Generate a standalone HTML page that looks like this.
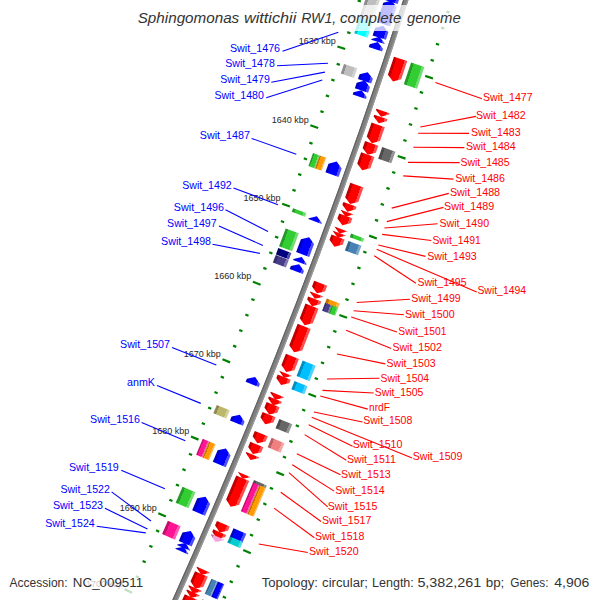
<!DOCTYPE html><html><head><meta charset="utf-8"><style>html,body{margin:0;padding:0;background:#fff;width:600px;height:600px;overflow:hidden}
svg{display:block}
text{font-family:"Liberation Sans",sans-serif}
.lb{font-size:11px}
.tk{font-size:9px;fill:#262626}
.ti{font-size:14px;font-style:italic;fill:#333}
.ft{font-size:12px;fill:#333}</style></head><body><svg width="600" height="600" viewBox="0 0 600 600">
<defs><linearGradient id="g1" gradientUnits="userSpaceOnUse" x1="366.52" y1="-4.19" x2="379.84" y2="0.13"><stop offset="0" stop-color="#8e8e8e"/><stop offset="0.2" stop-color="#8e8e8e"/><stop offset="0.2" stop-color="#bebebe"/><stop offset="0.8" stop-color="#bebebe"/><stop offset="0.8" stop-color="#d2d2d2"/><stop offset="1" stop-color="#d2d2d2"/></linearGradient><linearGradient id="g2" gradientUnits="userSpaceOnUse" x1="357.05" y1="24.78" x2="370.34" y2="29.17"><stop offset="0" stop-color="#00bfbf"/><stop offset="0.2" stop-color="#00bfbf"/><stop offset="0.2" stop-color="#00ffff"/><stop offset="0.8" stop-color="#00ffff"/><stop offset="0.8" stop-color="#4cffff"/><stop offset="1" stop-color="#4cffff"/></linearGradient><linearGradient id="g3" gradientUnits="userSpaceOnUse" x1="342.38" y1="68.66" x2="355.64" y2="73.16"><stop offset="0" stop-color="#8e8e8e"/><stop offset="0.2" stop-color="#8e8e8e"/><stop offset="0.2" stop-color="#bebebe"/><stop offset="0.8" stop-color="#bebebe"/><stop offset="0.8" stop-color="#d2d2d2"/><stop offset="1" stop-color="#d2d2d2"/></linearGradient><linearGradient id="g4" gradientUnits="userSpaceOnUse" x1="310.74" y1="159.56" x2="317.34" y2="161.92"><stop offset="0" stop-color="#269a26"/><stop offset="0.2" stop-color="#269a26"/><stop offset="0.2" stop-color="#32cd32"/><stop offset="0.8" stop-color="#32cd32"/><stop offset="0.8" stop-color="#70dc70"/><stop offset="1" stop-color="#70dc70"/></linearGradient><linearGradient id="g5" gradientUnits="userSpaceOnUse" x1="317.34" y1="161.92" x2="323.93" y2="164.28"><stop offset="0" stop-color="#bf7300"/><stop offset="0.2" stop-color="#bf7300"/><stop offset="0.2" stop-color="#ff9900"/><stop offset="0.8" stop-color="#ff9900"/><stop offset="0.8" stop-color="#ffb84c"/><stop offset="1" stop-color="#ffb84c"/></linearGradient><linearGradient id="g6" gradientUnits="userSpaceOnUse" x1="292.45" y1="210.01" x2="305.59" y2="214.84"><stop offset="0" stop-color="#269a26"/><stop offset="0.2" stop-color="#269a26"/><stop offset="0.2" stop-color="#32cd32"/><stop offset="0.8" stop-color="#32cd32"/><stop offset="0.8" stop-color="#70dc70"/><stop offset="1" stop-color="#70dc70"/></linearGradient><linearGradient id="g7" gradientUnits="userSpaceOnUse" x1="282.34" y1="237.30" x2="295.45" y2="242.20"><stop offset="0" stop-color="#269a26"/><stop offset="0.2" stop-color="#269a26"/><stop offset="0.2" stop-color="#32cd32"/><stop offset="0.8" stop-color="#32cd32"/><stop offset="0.8" stop-color="#70dc70"/><stop offset="1" stop-color="#70dc70"/></linearGradient><linearGradient id="g8" gradientUnits="userSpaceOnUse" x1="277.11" y1="251.26" x2="290.21" y2="256.19"><stop offset="0" stop-color="#000060"/><stop offset="0.2" stop-color="#000060"/><stop offset="0.2" stop-color="#000080"/><stop offset="0.8" stop-color="#000080"/><stop offset="0.8" stop-color="#4c4ca6"/><stop offset="1" stop-color="#4c4ca6"/></linearGradient><linearGradient id="g9" gradientUnits="userSpaceOnUse" x1="274.29" y1="258.72" x2="287.39" y2="263.67"><stop offset="0" stop-color="#362e68"/><stop offset="0.2" stop-color="#362e68"/><stop offset="0.2" stop-color="#483d8b"/><stop offset="0.8" stop-color="#483d8b"/><stop offset="0.8" stop-color="#7f77ae"/><stop offset="1" stop-color="#7f77ae"/></linearGradient><linearGradient id="g10" gradientUnits="userSpaceOnUse" x1="215.06" y1="409.07" x2="228.01" y2="414.38"><stop offset="0" stop-color="#8e8950"/><stop offset="0.2" stop-color="#8e8950"/><stop offset="0.2" stop-color="#bdb76b"/><stop offset="0.8" stop-color="#bdb76b"/><stop offset="0.8" stop-color="#d1cd97"/><stop offset="1" stop-color="#d1cd97"/></linearGradient><linearGradient id="g11" gradientUnits="userSpaceOnUse" x1="199.43" y1="446.79" x2="205.88" y2="449.50"><stop offset="0" stop-color="#bf0f6e"/><stop offset="0.2" stop-color="#bf0f6e"/><stop offset="0.2" stop-color="#ff1493"/><stop offset="0.8" stop-color="#ff1493"/><stop offset="0.8" stop-color="#ff5ab3"/><stop offset="1" stop-color="#ff5ab3"/></linearGradient><linearGradient id="g12" gradientUnits="userSpaceOnUse" x1="205.88" y1="449.50" x2="212.34" y2="452.20"><stop offset="0" stop-color="#bf7300"/><stop offset="0.2" stop-color="#bf7300"/><stop offset="0.2" stop-color="#ff9900"/><stop offset="0.8" stop-color="#ff9900"/><stop offset="0.8" stop-color="#ffb84c"/><stop offset="1" stop-color="#ffb84c"/></linearGradient><linearGradient id="g13" gradientUnits="userSpaceOnUse" x1="179.10" y1="494.78" x2="191.96" y2="500.30"><stop offset="0" stop-color="#269a26"/><stop offset="0.2" stop-color="#269a26"/><stop offset="0.2" stop-color="#32cd32"/><stop offset="0.8" stop-color="#32cd32"/><stop offset="0.8" stop-color="#70dc70"/><stop offset="1" stop-color="#70dc70"/></linearGradient><linearGradient id="g14" gradientUnits="userSpaceOnUse" x1="164.99" y1="527.39" x2="177.82" y2="532.99"><stop offset="0" stop-color="#bf0f6e"/><stop offset="0.2" stop-color="#bf0f6e"/><stop offset="0.2" stop-color="#ff1493"/><stop offset="0.8" stop-color="#ff1493"/><stop offset="0.8" stop-color="#ff5ab3"/><stop offset="1" stop-color="#ff5ab3"/></linearGradient><linearGradient id="g15" gradientUnits="userSpaceOnUse" x1="388.73" y1="-14.08" x2="402.06" y2="-9.80"><stop offset="0" stop-color="#0000bf"/><stop offset="0.2" stop-color="#0000bf"/><stop offset="0.2" stop-color="#0000ff"/><stop offset="0.8" stop-color="#0000ff"/><stop offset="0.8" stop-color="#4c4cff"/><stop offset="1" stop-color="#4c4cff"/></linearGradient><linearGradient id="g16" gradientUnits="userSpaceOnUse" x1="380.89" y1="10.16" x2="394.20" y2="14.49"><stop offset="0" stop-color="#0000bf"/><stop offset="0.2" stop-color="#0000bf"/><stop offset="0.2" stop-color="#0000ff"/><stop offset="0.8" stop-color="#0000ff"/><stop offset="0.8" stop-color="#4c4cff"/><stop offset="1" stop-color="#4c4cff"/></linearGradient><linearGradient id="g17" gradientUnits="userSpaceOnUse" x1="374.57" y1="29.46" x2="387.86" y2="33.84"><stop offset="0" stop-color="#0000bf"/><stop offset="0.2" stop-color="#0000bf"/><stop offset="0.2" stop-color="#0000ff"/><stop offset="0.8" stop-color="#0000ff"/><stop offset="0.8" stop-color="#4c4cff"/><stop offset="1" stop-color="#4c4cff"/></linearGradient><linearGradient id="g18" gradientUnits="userSpaceOnUse" x1="372.04" y1="37.10" x2="385.33" y2="41.50"><stop offset="0" stop-color="#0000bf"/><stop offset="0.2" stop-color="#0000bf"/><stop offset="0.2" stop-color="#0000ff"/><stop offset="0.8" stop-color="#0000ff"/><stop offset="0.8" stop-color="#4c4cff"/><stop offset="1" stop-color="#4c4cff"/></linearGradient><linearGradient id="g19" gradientUnits="userSpaceOnUse" x1="369.96" y1="43.38" x2="383.24" y2="47.80"><stop offset="0" stop-color="#0000bf"/><stop offset="0.2" stop-color="#0000bf"/><stop offset="0.2" stop-color="#0000ff"/><stop offset="0.8" stop-color="#0000ff"/><stop offset="0.8" stop-color="#4c4cff"/><stop offset="1" stop-color="#4c4cff"/></linearGradient><linearGradient id="g20" gradientUnits="userSpaceOnUse" x1="359.51" y1="74.51" x2="372.77" y2="79.00"><stop offset="0" stop-color="#0000bf"/><stop offset="0.2" stop-color="#0000bf"/><stop offset="0.2" stop-color="#0000ff"/><stop offset="0.8" stop-color="#0000ff"/><stop offset="0.8" stop-color="#4c4cff"/><stop offset="1" stop-color="#4c4cff"/></linearGradient><linearGradient id="g21" gradientUnits="userSpaceOnUse" x1="356.53" y1="83.28" x2="369.78" y2="87.79"><stop offset="0" stop-color="#0000bf"/><stop offset="0.2" stop-color="#0000bf"/><stop offset="0.2" stop-color="#0000ff"/><stop offset="0.8" stop-color="#0000ff"/><stop offset="0.8" stop-color="#4c4cff"/><stop offset="1" stop-color="#4c4cff"/></linearGradient><linearGradient id="g22" gradientUnits="userSpaceOnUse" x1="353.84" y1="91.16" x2="367.09" y2="95.70"><stop offset="0" stop-color="#0000bf"/><stop offset="0.2" stop-color="#0000bf"/><stop offset="0.2" stop-color="#0000ff"/><stop offset="0.8" stop-color="#0000ff"/><stop offset="0.8" stop-color="#4c4cff"/><stop offset="1" stop-color="#4c4cff"/></linearGradient><linearGradient id="g23" gradientUnits="userSpaceOnUse" x1="327.75" y1="165.77" x2="340.93" y2="170.48"><stop offset="0" stop-color="#0000bf"/><stop offset="0.2" stop-color="#0000bf"/><stop offset="0.2" stop-color="#0000ff"/><stop offset="0.8" stop-color="#0000ff"/><stop offset="0.8" stop-color="#4c4cff"/><stop offset="1" stop-color="#4c4cff"/></linearGradient><linearGradient id="g24" gradientUnits="userSpaceOnUse" x1="309.37" y1="216.45" x2="322.51" y2="221.29"><stop offset="0" stop-color="#0000bf"/><stop offset="0.2" stop-color="#0000bf"/><stop offset="0.2" stop-color="#0000ff"/><stop offset="0.8" stop-color="#0000ff"/><stop offset="0.8" stop-color="#4c4cff"/><stop offset="1" stop-color="#4c4cff"/></linearGradient><linearGradient id="g25" gradientUnits="userSpaceOnUse" x1="299.35" y1="243.48" x2="312.47" y2="248.37"><stop offset="0" stop-color="#0000bf"/><stop offset="0.2" stop-color="#0000bf"/><stop offset="0.2" stop-color="#0000ff"/><stop offset="0.8" stop-color="#0000ff"/><stop offset="0.8" stop-color="#4c4cff"/><stop offset="1" stop-color="#4c4cff"/></linearGradient><linearGradient id="g26" gradientUnits="userSpaceOnUse" x1="294.15" y1="257.36" x2="307.25" y2="262.29"><stop offset="0" stop-color="#0000bf"/><stop offset="0.2" stop-color="#0000bf"/><stop offset="0.2" stop-color="#0000ff"/><stop offset="0.8" stop-color="#0000ff"/><stop offset="0.8" stop-color="#4c4cff"/><stop offset="1" stop-color="#4c4cff"/></linearGradient><linearGradient id="g27" gradientUnits="userSpaceOnUse" x1="291.12" y1="265.39" x2="304.21" y2="270.34"><stop offset="0" stop-color="#0000bf"/><stop offset="0.2" stop-color="#0000bf"/><stop offset="0.2" stop-color="#0000ff"/><stop offset="0.8" stop-color="#0000ff"/><stop offset="0.8" stop-color="#4c4cff"/><stop offset="1" stop-color="#4c4cff"/></linearGradient><linearGradient id="g28" gradientUnits="userSpaceOnUse" x1="247.15" y1="378.13" x2="260.14" y2="383.36"><stop offset="0" stop-color="#0000bf"/><stop offset="0.2" stop-color="#0000bf"/><stop offset="0.2" stop-color="#0000ff"/><stop offset="0.8" stop-color="#0000ff"/><stop offset="0.8" stop-color="#4c4cff"/><stop offset="1" stop-color="#4c4cff"/></linearGradient><linearGradient id="g29" gradientUnits="userSpaceOnUse" x1="231.66" y1="416.28" x2="244.61" y2="421.60"><stop offset="0" stop-color="#0000bf"/><stop offset="0.2" stop-color="#0000bf"/><stop offset="0.2" stop-color="#0000ff"/><stop offset="0.8" stop-color="#0000ff"/><stop offset="0.8" stop-color="#4c4cff"/><stop offset="1" stop-color="#4c4cff"/></linearGradient><linearGradient id="g30" gradientUnits="userSpaceOnUse" x1="216.12" y1="453.78" x2="229.04" y2="459.18"><stop offset="0" stop-color="#0000bf"/><stop offset="0.2" stop-color="#0000bf"/><stop offset="0.2" stop-color="#0000ff"/><stop offset="0.8" stop-color="#0000ff"/><stop offset="0.8" stop-color="#4c4cff"/><stop offset="1" stop-color="#4c4cff"/></linearGradient><linearGradient id="g31" gradientUnits="userSpaceOnUse" x1="195.63" y1="502.14" x2="208.50" y2="507.66"><stop offset="0" stop-color="#0000bf"/><stop offset="0.2" stop-color="#0000bf"/><stop offset="0.2" stop-color="#0000ff"/><stop offset="0.8" stop-color="#0000ff"/><stop offset="0.8" stop-color="#4c4cff"/><stop offset="1" stop-color="#4c4cff"/></linearGradient><linearGradient id="g32" gradientUnits="userSpaceOnUse" x1="181.58" y1="534.63" x2="194.41" y2="540.23"><stop offset="0" stop-color="#0000bf"/><stop offset="0.2" stop-color="#0000bf"/><stop offset="0.2" stop-color="#0000ff"/><stop offset="0.8" stop-color="#0000ff"/><stop offset="0.8" stop-color="#4c4cff"/><stop offset="1" stop-color="#4c4cff"/></linearGradient><linearGradient id="g33" gradientUnits="userSpaceOnUse" x1="178.07" y1="542.65" x2="190.90" y2="548.27"><stop offset="0" stop-color="#0000bf"/><stop offset="0.2" stop-color="#0000bf"/><stop offset="0.2" stop-color="#0000ff"/><stop offset="0.8" stop-color="#0000ff"/><stop offset="0.8" stop-color="#4c4cff"/><stop offset="1" stop-color="#4c4cff"/></linearGradient><linearGradient id="g34" gradientUnits="userSpaceOnUse" x1="176.41" y1="546.45" x2="189.23" y2="552.08"><stop offset="0" stop-color="#0000bf"/><stop offset="0.2" stop-color="#0000bf"/><stop offset="0.2" stop-color="#0000ff"/><stop offset="0.8" stop-color="#0000ff"/><stop offset="0.8" stop-color="#4c4cff"/><stop offset="1" stop-color="#4c4cff"/></linearGradient><linearGradient id="g35" gradientUnits="userSpaceOnUse" x1="407.46" y1="73.46" x2="420.73" y2="77.92"><stop offset="0" stop-color="#269a26"/><stop offset="0.2" stop-color="#269a26"/><stop offset="0.2" stop-color="#32cd32"/><stop offset="0.8" stop-color="#32cd32"/><stop offset="0.8" stop-color="#70dc70"/><stop offset="1" stop-color="#70dc70"/></linearGradient><linearGradient id="g36" gradientUnits="userSpaceOnUse" x1="380.19" y1="152.82" x2="393.39" y2="157.47"><stop offset="0" stop-color="#4c4c4c"/><stop offset="0.2" stop-color="#4c4c4c"/><stop offset="0.2" stop-color="#666666"/><stop offset="0.8" stop-color="#666666"/><stop offset="0.8" stop-color="#949494"/><stop offset="1" stop-color="#949494"/></linearGradient><linearGradient id="g37" gradientUnits="userSpaceOnUse" x1="350.44" y1="235.43" x2="363.58" y2="240.27"><stop offset="0" stop-color="#269a26"/><stop offset="0.2" stop-color="#269a26"/><stop offset="0.2" stop-color="#32cd32"/><stop offset="0.8" stop-color="#32cd32"/><stop offset="0.8" stop-color="#70dc70"/><stop offset="1" stop-color="#70dc70"/></linearGradient><linearGradient id="g38" gradientUnits="userSpaceOnUse" x1="346.65" y1="245.68" x2="359.78" y2="250.55"><stop offset="0" stop-color="#346287"/><stop offset="0.2" stop-color="#346287"/><stop offset="0.2" stop-color="#4682b4"/><stop offset="0.8" stop-color="#4682b4"/><stop offset="0.8" stop-color="#7ea8ca"/><stop offset="1" stop-color="#7ea8ca"/></linearGradient><linearGradient id="g39" gradientUnits="userSpaceOnUse" x1="325.88" y1="300.87" x2="338.96" y2="305.87"><stop offset="0" stop-color="#bf7300"/><stop offset="0.2" stop-color="#bf7300"/><stop offset="0.2" stop-color="#ff9900"/><stop offset="0.8" stop-color="#ff9900"/><stop offset="0.8" stop-color="#ffb84c"/><stop offset="1" stop-color="#ffb84c"/></linearGradient><linearGradient id="g40" gradientUnits="userSpaceOnUse" x1="323.60" y1="306.83" x2="330.14" y2="309.33"><stop offset="0" stop-color="#362e68"/><stop offset="0.2" stop-color="#362e68"/><stop offset="0.2" stop-color="#483d8b"/><stop offset="0.8" stop-color="#483d8b"/><stop offset="0.8" stop-color="#7f77ae"/><stop offset="1" stop-color="#7f77ae"/></linearGradient><linearGradient id="g41" gradientUnits="userSpaceOnUse" x1="330.14" y1="309.33" x2="336.67" y2="311.84"><stop offset="0" stop-color="#269a26"/><stop offset="0.2" stop-color="#269a26"/><stop offset="0.2" stop-color="#32cd32"/><stop offset="0.8" stop-color="#32cd32"/><stop offset="0.8" stop-color="#70dc70"/><stop offset="1" stop-color="#70dc70"/></linearGradient><linearGradient id="g42" gradientUnits="userSpaceOnUse" x1="299.62" y1="368.34" x2="312.64" y2="373.49"><stop offset="0" stop-color="#008fbf"/><stop offset="0.2" stop-color="#008fbf"/><stop offset="0.2" stop-color="#00bfff"/><stop offset="0.8" stop-color="#00bfff"/><stop offset="0.8" stop-color="#4cd2ff"/><stop offset="1" stop-color="#4cd2ff"/></linearGradient><linearGradient id="g43" gradientUnits="userSpaceOnUse" x1="292.94" y1="385.12" x2="305.94" y2="390.32"><stop offset="0" stop-color="#008fbf"/><stop offset="0.2" stop-color="#008fbf"/><stop offset="0.2" stop-color="#00bfff"/><stop offset="0.8" stop-color="#00bfff"/><stop offset="0.8" stop-color="#4cd2ff"/><stop offset="1" stop-color="#4cd2ff"/></linearGradient><linearGradient id="g44" gradientUnits="userSpaceOnUse" x1="277.41" y1="423.55" x2="290.38" y2="428.84"><stop offset="0" stop-color="#4c4c4c"/><stop offset="0.2" stop-color="#4c4c4c"/><stop offset="0.2" stop-color="#666666"/><stop offset="0.8" stop-color="#666666"/><stop offset="0.8" stop-color="#949494"/><stop offset="1" stop-color="#949494"/></linearGradient><linearGradient id="g45" gradientUnits="userSpaceOnUse" x1="269.61" y1="442.57" x2="282.56" y2="447.91"><stop offset="0" stop-color="#b46060"/><stop offset="0.2" stop-color="#b46060"/><stop offset="0.2" stop-color="#f08080"/><stop offset="0.8" stop-color="#f08080"/><stop offset="0.8" stop-color="#f4a6a6"/><stop offset="1" stop-color="#f4a6a6"/></linearGradient><linearGradient id="g46" gradientUnits="userSpaceOnUse" x1="253.35" y1="481.62" x2="266.26" y2="487.05"><stop offset="0" stop-color="#4c4c4c"/><stop offset="0.2" stop-color="#4c4c4c"/><stop offset="0.2" stop-color="#666666"/><stop offset="0.8" stop-color="#666666"/><stop offset="0.8" stop-color="#949494"/><stop offset="1" stop-color="#949494"/></linearGradient><linearGradient id="g47" gradientUnits="userSpaceOnUse" x1="246.92" y1="496.86" x2="253.36" y2="499.60"><stop offset="0" stop-color="#bf0f6e"/><stop offset="0.2" stop-color="#bf0f6e"/><stop offset="0.2" stop-color="#ff1493"/><stop offset="0.8" stop-color="#ff1493"/><stop offset="0.8" stop-color="#ff5ab3"/><stop offset="1" stop-color="#ff5ab3"/></linearGradient><linearGradient id="g48" gradientUnits="userSpaceOnUse" x1="253.36" y1="499.60" x2="259.81" y2="502.33"><stop offset="0" stop-color="#bf7300"/><stop offset="0.2" stop-color="#bf7300"/><stop offset="0.2" stop-color="#ff9900"/><stop offset="0.8" stop-color="#ff9900"/><stop offset="0.8" stop-color="#ffb84c"/><stop offset="1" stop-color="#ffb84c"/></linearGradient><linearGradient id="g49" gradientUnits="userSpaceOnUse" x1="231.56" y1="532.76" x2="244.41" y2="538.31"><stop offset="0" stop-color="#0000bf"/><stop offset="0.2" stop-color="#0000bf"/><stop offset="0.2" stop-color="#0000ff"/><stop offset="0.8" stop-color="#0000ff"/><stop offset="0.8" stop-color="#4c4cff"/><stop offset="1" stop-color="#4c4cff"/></linearGradient><linearGradient id="g50" gradientUnits="userSpaceOnUse" x1="228.64" y1="539.50" x2="241.49" y2="545.07"><stop offset="0" stop-color="#009a9d"/><stop offset="0.2" stop-color="#009a9d"/><stop offset="0.2" stop-color="#00ced1"/><stop offset="0.8" stop-color="#00ced1"/><stop offset="0.8" stop-color="#4cdddf"/><stop offset="1" stop-color="#4cdddf"/></linearGradient><linearGradient id="g51" gradientUnits="userSpaceOnUse" x1="208.14" y1="586.24" x2="214.54" y2="589.08"><stop offset="0" stop-color="#346287"/><stop offset="0.2" stop-color="#346287"/><stop offset="0.2" stop-color="#4682b4"/><stop offset="0.8" stop-color="#4682b4"/><stop offset="0.8" stop-color="#7ea8ca"/><stop offset="1" stop-color="#7ea8ca"/></linearGradient><linearGradient id="g52" gradientUnits="userSpaceOnUse" x1="214.54" y1="589.08" x2="220.94" y2="591.92"><stop offset="0" stop-color="#0000bf"/><stop offset="0.2" stop-color="#0000bf"/><stop offset="0.2" stop-color="#0000ff"/><stop offset="0.8" stop-color="#0000ff"/><stop offset="0.8" stop-color="#4c4cff"/><stop offset="1" stop-color="#4c4cff"/></linearGradient><linearGradient id="g53" gradientUnits="userSpaceOnUse" x1="198.41" y1="608.06" x2="211.18" y2="613.79"><stop offset="0" stop-color="#737373"/><stop offset="0.2" stop-color="#737373"/><stop offset="0.2" stop-color="#999999"/><stop offset="0.8" stop-color="#999999"/><stop offset="0.8" stop-color="#b8b8b8"/><stop offset="1" stop-color="#b8b8b8"/></linearGradient><linearGradient id="g54" gradientUnits="userSpaceOnUse" x1="390.20" y1="67.98" x2="403.48" y2="72.44"><stop offset="0" stop-color="#bf0000"/><stop offset="0.2" stop-color="#bf0000"/><stop offset="0.2" stop-color="#ff0000"/><stop offset="0.8" stop-color="#ff0000"/><stop offset="0.8" stop-color="#ff4c4c"/><stop offset="1" stop-color="#ff4c4c"/></linearGradient><linearGradient id="g55" gradientUnits="userSpaceOnUse" x1="375.35" y1="111.65" x2="388.59" y2="116.21"><stop offset="0" stop-color="#bf0000"/><stop offset="0.2" stop-color="#bf0000"/><stop offset="0.2" stop-color="#ff0000"/><stop offset="0.8" stop-color="#ff0000"/><stop offset="0.8" stop-color="#ff4c4c"/><stop offset="1" stop-color="#ff4c4c"/></linearGradient><linearGradient id="g56" gradientUnits="userSpaceOnUse" x1="373.20" y1="117.89" x2="386.43" y2="122.47"><stop offset="0" stop-color="#bf0000"/><stop offset="0.2" stop-color="#bf0000"/><stop offset="0.2" stop-color="#ff0000"/><stop offset="0.8" stop-color="#ff0000"/><stop offset="0.8" stop-color="#ff4c4c"/><stop offset="1" stop-color="#ff4c4c"/></linearGradient><linearGradient id="g57" gradientUnits="userSpaceOnUse" x1="368.40" y1="131.73" x2="381.62" y2="136.33"><stop offset="0" stop-color="#bf0000"/><stop offset="0.2" stop-color="#bf0000"/><stop offset="0.2" stop-color="#ff0000"/><stop offset="0.8" stop-color="#ff0000"/><stop offset="0.8" stop-color="#ff4c4c"/><stop offset="1" stop-color="#ff4c4c"/></linearGradient><linearGradient id="g58" gradientUnits="userSpaceOnUse" x1="363.11" y1="146.82" x2="376.32" y2="151.46"><stop offset="0" stop-color="#bf0000"/><stop offset="0.2" stop-color="#bf0000"/><stop offset="0.2" stop-color="#ff0000"/><stop offset="0.8" stop-color="#ff0000"/><stop offset="0.8" stop-color="#ff4c4c"/><stop offset="1" stop-color="#ff4c4c"/></linearGradient><linearGradient id="g59" gradientUnits="userSpaceOnUse" x1="358.41" y1="160.15" x2="371.60" y2="164.83"><stop offset="0" stop-color="#bf0000"/><stop offset="0.2" stop-color="#bf0000"/><stop offset="0.2" stop-color="#ff0000"/><stop offset="0.8" stop-color="#ff0000"/><stop offset="0.8" stop-color="#ff4c4c"/><stop offset="1" stop-color="#ff4c4c"/></linearGradient><linearGradient id="g60" gradientUnits="userSpaceOnUse" x1="346.96" y1="192.17" x2="360.12" y2="196.92"><stop offset="0" stop-color="#bf0000"/><stop offset="0.2" stop-color="#bf0000"/><stop offset="0.2" stop-color="#ff0000"/><stop offset="0.8" stop-color="#ff0000"/><stop offset="0.8" stop-color="#ff4c4c"/><stop offset="1" stop-color="#ff4c4c"/></linearGradient><linearGradient id="g61" gradientUnits="userSpaceOnUse" x1="342.10" y1="205.58" x2="355.25" y2="210.36"><stop offset="0" stop-color="#bf0000"/><stop offset="0.2" stop-color="#bf0000"/><stop offset="0.2" stop-color="#ff0000"/><stop offset="0.8" stop-color="#ff0000"/><stop offset="0.8" stop-color="#ff4c4c"/><stop offset="1" stop-color="#ff4c4c"/></linearGradient><linearGradient id="g62" gradientUnits="userSpaceOnUse" x1="339.78" y1="211.95" x2="352.93" y2="216.75"><stop offset="0" stop-color="#bf0000"/><stop offset="0.2" stop-color="#bf0000"/><stop offset="0.2" stop-color="#ff0000"/><stop offset="0.8" stop-color="#ff0000"/><stop offset="0.8" stop-color="#ff4c4c"/><stop offset="1" stop-color="#ff4c4c"/></linearGradient><linearGradient id="g63" gradientUnits="userSpaceOnUse" x1="337.51" y1="218.15" x2="350.65" y2="222.96"><stop offset="0" stop-color="#bf0000"/><stop offset="0.2" stop-color="#bf0000"/><stop offset="0.2" stop-color="#ff0000"/><stop offset="0.8" stop-color="#ff0000"/><stop offset="0.8" stop-color="#ff4c4c"/><stop offset="1" stop-color="#ff4c4c"/></linearGradient><linearGradient id="g64" gradientUnits="userSpaceOnUse" x1="333.60" y1="228.78" x2="346.74" y2="233.62"><stop offset="0" stop-color="#bf0000"/><stop offset="0.2" stop-color="#bf0000"/><stop offset="0.2" stop-color="#ff0000"/><stop offset="0.8" stop-color="#ff0000"/><stop offset="0.8" stop-color="#ff4c4c"/><stop offset="1" stop-color="#ff4c4c"/></linearGradient><linearGradient id="g65" gradientUnits="userSpaceOnUse" x1="332.03" y1="233.04" x2="345.16" y2="237.89"><stop offset="0" stop-color="#bf0000"/><stop offset="0.2" stop-color="#bf0000"/><stop offset="0.2" stop-color="#ff0000"/><stop offset="0.8" stop-color="#ff0000"/><stop offset="0.8" stop-color="#ff4c4c"/><stop offset="1" stop-color="#ff4c4c"/></linearGradient><linearGradient id="g66" gradientUnits="userSpaceOnUse" x1="329.68" y1="239.39" x2="342.81" y2="244.26"><stop offset="0" stop-color="#bf0000"/><stop offset="0.2" stop-color="#bf0000"/><stop offset="0.2" stop-color="#ff0000"/><stop offset="0.8" stop-color="#ff0000"/><stop offset="0.8" stop-color="#ff4c4c"/><stop offset="1" stop-color="#ff4c4c"/></linearGradient><linearGradient id="g67" gradientUnits="userSpaceOnUse" x1="312.24" y1="285.84" x2="325.33" y2="290.82"><stop offset="0" stop-color="#bf0000"/><stop offset="0.2" stop-color="#bf0000"/><stop offset="0.2" stop-color="#ff0000"/><stop offset="0.8" stop-color="#ff0000"/><stop offset="0.8" stop-color="#ff4c4c"/><stop offset="1" stop-color="#ff4c4c"/></linearGradient><linearGradient id="g68" gradientUnits="userSpaceOnUse" x1="309.17" y1="293.90" x2="322.25" y2="298.90"><stop offset="0" stop-color="#bf0000"/><stop offset="0.2" stop-color="#bf0000"/><stop offset="0.2" stop-color="#ff0000"/><stop offset="0.8" stop-color="#ff0000"/><stop offset="0.8" stop-color="#ff4c4c"/><stop offset="1" stop-color="#ff4c4c"/></linearGradient><linearGradient id="g69" gradientUnits="userSpaceOnUse" x1="306.81" y1="300.07" x2="319.88" y2="305.08"><stop offset="0" stop-color="#bf0000"/><stop offset="0.2" stop-color="#bf0000"/><stop offset="0.2" stop-color="#ff0000"/><stop offset="0.8" stop-color="#ff0000"/><stop offset="0.8" stop-color="#ff4c4c"/><stop offset="1" stop-color="#ff4c4c"/></linearGradient><linearGradient id="g70" gradientUnits="userSpaceOnUse" x1="301.78" y1="313.15" x2="314.84" y2="318.19"><stop offset="0" stop-color="#bf0000"/><stop offset="0.2" stop-color="#bf0000"/><stop offset="0.2" stop-color="#ff0000"/><stop offset="0.8" stop-color="#ff0000"/><stop offset="0.8" stop-color="#ff4c4c"/><stop offset="1" stop-color="#ff4c4c"/></linearGradient><linearGradient id="g71" gradientUnits="userSpaceOnUse" x1="292.60" y1="336.76" x2="305.64" y2="341.86"><stop offset="0" stop-color="#bf0000"/><stop offset="0.2" stop-color="#bf0000"/><stop offset="0.2" stop-color="#ff0000"/><stop offset="0.8" stop-color="#ff0000"/><stop offset="0.8" stop-color="#ff4c4c"/><stop offset="1" stop-color="#ff4c4c"/></linearGradient><linearGradient id="g72" gradientUnits="userSpaceOnUse" x1="282.81" y1="361.63" x2="295.83" y2="366.79"><stop offset="0" stop-color="#bf0000"/><stop offset="0.2" stop-color="#bf0000"/><stop offset="0.2" stop-color="#ff0000"/><stop offset="0.8" stop-color="#ff0000"/><stop offset="0.8" stop-color="#ff4c4c"/><stop offset="1" stop-color="#ff4c4c"/></linearGradient><linearGradient id="g73" gradientUnits="userSpaceOnUse" x1="278.29" y1="373.01" x2="291.29" y2="378.19"><stop offset="0" stop-color="#bf0000"/><stop offset="0.2" stop-color="#bf0000"/><stop offset="0.2" stop-color="#ff0000"/><stop offset="0.8" stop-color="#ff0000"/><stop offset="0.8" stop-color="#ff4c4c"/><stop offset="1" stop-color="#ff4c4c"/></linearGradient><linearGradient id="g74" gradientUnits="userSpaceOnUse" x1="276.13" y1="378.40" x2="289.13" y2="383.60"><stop offset="0" stop-color="#bf0000"/><stop offset="0.2" stop-color="#bf0000"/><stop offset="0.2" stop-color="#ff0000"/><stop offset="0.8" stop-color="#ff0000"/><stop offset="0.8" stop-color="#ff4c4c"/><stop offset="1" stop-color="#ff4c4c"/></linearGradient><linearGradient id="g75" gradientUnits="userSpaceOnUse" x1="269.70" y1="394.41" x2="282.69" y2="399.65"><stop offset="0" stop-color="#bf0000"/><stop offset="0.2" stop-color="#bf0000"/><stop offset="0.2" stop-color="#ff0000"/><stop offset="0.8" stop-color="#ff0000"/><stop offset="0.8" stop-color="#ff4c4c"/><stop offset="1" stop-color="#ff4c4c"/></linearGradient><linearGradient id="g76" gradientUnits="userSpaceOnUse" x1="267.62" y1="399.56" x2="280.60" y2="404.81"><stop offset="0" stop-color="#bf0000"/><stop offset="0.2" stop-color="#bf0000"/><stop offset="0.2" stop-color="#ff0000"/><stop offset="0.8" stop-color="#ff0000"/><stop offset="0.8" stop-color="#ff4c4c"/><stop offset="1" stop-color="#ff4c4c"/></linearGradient><linearGradient id="g77" gradientUnits="userSpaceOnUse" x1="264.62" y1="406.97" x2="277.59" y2="412.24"><stop offset="0" stop-color="#bf0000"/><stop offset="0.2" stop-color="#bf0000"/><stop offset="0.2" stop-color="#ff0000"/><stop offset="0.8" stop-color="#ff0000"/><stop offset="0.8" stop-color="#ff4c4c"/><stop offset="1" stop-color="#ff4c4c"/></linearGradient><linearGradient id="g78" gradientUnits="userSpaceOnUse" x1="260.62" y1="416.79" x2="273.59" y2="422.08"><stop offset="0" stop-color="#bf0000"/><stop offset="0.2" stop-color="#bf0000"/><stop offset="0.2" stop-color="#ff0000"/><stop offset="0.8" stop-color="#ff0000"/><stop offset="0.8" stop-color="#ff4c4c"/><stop offset="1" stop-color="#ff4c4c"/></linearGradient><linearGradient id="g79" gradientUnits="userSpaceOnUse" x1="252.85" y1="435.75" x2="265.79" y2="441.09"><stop offset="0" stop-color="#bf0000"/><stop offset="0.2" stop-color="#bf0000"/><stop offset="0.2" stop-color="#ff0000"/><stop offset="0.8" stop-color="#ff0000"/><stop offset="0.8" stop-color="#ff4c4c"/><stop offset="1" stop-color="#ff4c4c"/></linearGradient><linearGradient id="g80" gradientUnits="userSpaceOnUse" x1="248.36" y1="446.60" x2="261.29" y2="451.97"><stop offset="0" stop-color="#bf0000"/><stop offset="0.2" stop-color="#bf0000"/><stop offset="0.2" stop-color="#ff0000"/><stop offset="0.8" stop-color="#ff0000"/><stop offset="0.8" stop-color="#ff4c4c"/><stop offset="1" stop-color="#ff4c4c"/></linearGradient><linearGradient id="g81" gradientUnits="userSpaceOnUse" x1="245.05" y1="454.57" x2="257.98" y2="459.95"><stop offset="0" stop-color="#bf0000"/><stop offset="0.2" stop-color="#bf0000"/><stop offset="0.2" stop-color="#ff0000"/><stop offset="0.8" stop-color="#ff0000"/><stop offset="0.8" stop-color="#ff4c4c"/><stop offset="1" stop-color="#ff4c4c"/></linearGradient><linearGradient id="g82" gradientUnits="userSpaceOnUse" x1="236.93" y1="473.98" x2="249.84" y2="479.41"><stop offset="0" stop-color="#bf0000"/><stop offset="0.2" stop-color="#bf0000"/><stop offset="0.2" stop-color="#ff0000"/><stop offset="0.8" stop-color="#ff0000"/><stop offset="0.8" stop-color="#ff4c4c"/><stop offset="1" stop-color="#ff4c4c"/></linearGradient><linearGradient id="g83" gradientUnits="userSpaceOnUse" x1="230.27" y1="489.76" x2="243.16" y2="495.22"><stop offset="0" stop-color="#bf0000"/><stop offset="0.2" stop-color="#bf0000"/><stop offset="0.2" stop-color="#ff0000"/><stop offset="0.8" stop-color="#ff0000"/><stop offset="0.8" stop-color="#ff4c4c"/><stop offset="1" stop-color="#ff4c4c"/></linearGradient><linearGradient id="g84" gradientUnits="userSpaceOnUse" x1="215.07" y1="525.28" x2="227.93" y2="530.82"><stop offset="0" stop-color="#bf0000"/><stop offset="0.2" stop-color="#bf0000"/><stop offset="0.2" stop-color="#ff0000"/><stop offset="0.8" stop-color="#ff0000"/><stop offset="0.8" stop-color="#ff4c4c"/><stop offset="1" stop-color="#ff4c4c"/></linearGradient><linearGradient id="g85" gradientUnits="userSpaceOnUse" x1="211.88" y1="532.65" x2="224.73" y2="538.22"><stop offset="0" stop-color="#bf0000"/><stop offset="0.2" stop-color="#bf0000"/><stop offset="0.2" stop-color="#ff0000"/><stop offset="0.8" stop-color="#ff0000"/><stop offset="0.8" stop-color="#ff4c4c"/><stop offset="1" stop-color="#ff4c4c"/></linearGradient><linearGradient id="g86" gradientUnits="userSpaceOnUse" x1="195.86" y1="569.28" x2="208.67" y2="574.93"><stop offset="0" stop-color="#bf0000"/><stop offset="0.2" stop-color="#bf0000"/><stop offset="0.2" stop-color="#ff0000"/><stop offset="0.8" stop-color="#ff0000"/><stop offset="0.8" stop-color="#ff4c4c"/><stop offset="1" stop-color="#ff4c4c"/></linearGradient><linearGradient id="g87" gradientUnits="userSpaceOnUse" x1="191.81" y1="578.44" x2="204.60" y2="584.11"><stop offset="0" stop-color="#bf0000"/><stop offset="0.2" stop-color="#bf0000"/><stop offset="0.2" stop-color="#ff0000"/><stop offset="0.8" stop-color="#ff0000"/><stop offset="0.8" stop-color="#ff4c4c"/><stop offset="1" stop-color="#ff4c4c"/></linearGradient><linearGradient id="g88" gradientUnits="userSpaceOnUse" x1="187.68" y1="587.70" x2="200.47" y2="593.40"><stop offset="0" stop-color="#bf0000"/><stop offset="0.2" stop-color="#bf0000"/><stop offset="0.2" stop-color="#ff0000"/><stop offset="0.8" stop-color="#ff0000"/><stop offset="0.8" stop-color="#ff4c4c"/><stop offset="1" stop-color="#ff4c4c"/></linearGradient><linearGradient id="g89" gradientUnits="userSpaceOnUse" x1="185.68" y1="592.20" x2="198.46" y2="597.91"><stop offset="0" stop-color="#bf0000"/><stop offset="0.2" stop-color="#bf0000"/><stop offset="0.2" stop-color="#ff0000"/><stop offset="0.8" stop-color="#ff0000"/><stop offset="0.8" stop-color="#ff4c4c"/><stop offset="1" stop-color="#ff4c4c"/></linearGradient><linearGradient id="g90" gradientUnits="userSpaceOnUse" x1="181.34" y1="601.88" x2="194.12" y2="607.61"><stop offset="0" stop-color="#bf0000"/><stop offset="0.2" stop-color="#bf0000"/><stop offset="0.2" stop-color="#ff0000"/><stop offset="0.8" stop-color="#ff0000"/><stop offset="0.8" stop-color="#ff4c4c"/><stop offset="1" stop-color="#ff4c4c"/></linearGradient><linearGradient id="g91" gradientUnits="userSpaceOnUse" x1="210.17" y1="536.59" x2="223.01" y2="542.17"><stop offset="0" stop-color="#b87ca5"/><stop offset="0.2" stop-color="#b87ca5"/><stop offset="0.2" stop-color="#f5a5dc"/><stop offset="0.8" stop-color="#f5a5dc"/><stop offset="0.8" stop-color="#f8c0e6"/><stop offset="1" stop-color="#f8c0e6"/></linearGradient></defs>
<polygon points="373.37,-25.45 359.59,17.05 372.90,21.42 386.70,-21.19" fill="url(#g1)"/>
<polygon points="359.86,16.26 354.23,33.31 367.52,37.71 373.16,20.62" fill="url(#g2)"/>
<polygon points="344.00,63.88 340.76,73.45 354.01,77.95 357.26,68.36" fill="url(#g3)"/>
<polygon points="313.04,153.11 308.44,166.01 315.02,168.38 319.64,155.46" fill="url(#g4)"/>
<polygon points="319.64,155.46 315.02,168.38 321.61,170.74 326.23,157.81" fill="url(#g5)"/>
<polygon points="293.13,208.17 291.78,211.85 304.91,216.69 306.27,212.99" fill="url(#g6)"/>
<polygon points="285.66,228.38 279.00,246.22 292.11,251.14 298.79,233.25" fill="url(#g7)"/>
<polygon points="278.33,248.01 275.88,254.50 288.98,259.44 291.43,252.94" fill="url(#g8)"/>
<polygon points="275.74,254.89 272.84,262.55 285.93,267.51 288.84,259.83" fill="url(#g9)"/>
<polygon points="216.77,404.89 213.34,413.24 226.29,418.56 229.72,410.20" fill="url(#g10)"/>
<polygon points="202.74,438.86 196.10,454.73 202.55,457.44 209.20,441.55" fill="url(#g11)"/>
<polygon points="209.20,441.55 202.55,457.44 209.01,460.15 215.66,444.24" fill="url(#g12)"/>
<polygon points="182.55,486.72 175.63,502.83 188.49,508.37 195.42,492.22" fill="url(#g13)"/>
<polygon points="167.87,520.77 162.10,534.01 174.92,539.63 180.71,526.35" fill="url(#g14)"/>
<polygon points="384.27,-0.24 391.73,-23.45 399.83,-25.80 405.07,-19.19 397.59,4.07" fill="url(#g15)"/>
<polygon points="377.00,22.06 383.31,2.71 391.42,0.40 396.63,7.03 390.30,26.43" fill="url(#g16)"/>
<polygon points="372.60,35.43 375.06,27.95 383.18,25.68 388.36,32.33 385.89,39.82" fill="url(#g17)"/>
<polygon points="371.20,39.64 371.41,39.01 379.53,36.75 384.70,43.41 384.49,44.05" fill="url(#g18)"/>
<polygon points="368.77,46.95 369.67,44.25 377.79,42.00 382.95,48.67 382.05,51.38" fill="url(#g19)"/>
<polygon points="357.95,79.11 359.56,74.35 367.70,72.15 372.82,78.84 371.20,83.62" fill="url(#g20)"/>
<polygon points="354.84,88.23 356.71,82.76 364.85,80.57 369.96,87.27 368.09,92.76" fill="url(#g21)"/>
<polygon points="352.73,94.41 353.43,92.35 361.57,90.18 366.68,96.89 365.97,98.95" fill="url(#g22)"/>
<polygon points="325.42,172.28 328.49,163.68 336.66,161.61 341.68,168.39 338.59,177.01" fill="url(#g23)"/>
<polygon points="308.41,219.05 308.70,218.26 316.89,216.27 321.84,223.10 321.55,223.89" fill="url(#g24)"/>
<polygon points="296.12,252.11 300.93,239.24 309.13,237.28 314.05,244.12 309.23,257.02" fill="url(#g25)"/>
<polygon points="293.11,260.10 293.53,259.01 301.73,257.08 306.63,263.94 306.22,265.04" fill="url(#g26)"/>
<polygon points="289.71,269.12 290.87,266.06 299.07,264.14 303.96,271.01 302.80,274.08" fill="url(#g27)"/>
<polygon points="245.65,381.86 246.90,378.76 255.15,377.01 259.89,383.98 258.64,387.09" fill="url(#g28)"/>
<polygon points="229.96,420.43 231.58,416.48 239.84,414.79 244.53,421.79 242.91,425.75" fill="url(#g29)"/>
<polygon points="212.79,461.74 217.64,450.15 225.91,448.51 230.56,455.54 225.70,467.16" fill="url(#g30)"/>
<polygon points="192.16,510.23 197.25,498.37 205.53,496.81 210.12,503.88 205.02,515.77" fill="url(#g31)"/>
<polygon points="178.81,540.96 182.47,532.59 190.76,531.08 195.30,538.19 191.64,546.58" fill="url(#g32)"/>
<polygon points="177.00,545.11 177.27,544.49 185.56,543.00 190.09,550.11 189.82,550.73" fill="url(#g33)"/>
<polygon points="175.35,548.87 175.58,548.33 183.88,546.84 188.40,553.96 188.16,554.50" fill="url(#g34)"/>
<polygon points="411.10,62.57 403.79,84.34 417.06,88.82 424.38,67.00" fill="url(#g35)"/>
<polygon points="382.23,147.01 378.14,158.64 391.34,163.29 395.44,151.64" fill="url(#g36)"/>
<polygon points="351.11,233.61 349.77,237.25 362.91,242.10 364.25,238.44" fill="url(#g37)"/>
<polygon points="348.43,240.89 344.88,250.47 358.00,255.35 361.56,245.75" fill="url(#g38)"/>
<polygon points="326.78,298.51 324.98,303.24 338.05,308.24 339.86,303.50" fill="url(#g39)"/>
<polygon points="325.13,302.84 322.07,310.81 328.61,313.32 331.66,305.35" fill="url(#g40)"/>
<polygon points="331.66,305.35 328.61,313.32 335.14,315.83 338.20,307.85" fill="url(#g41)"/>
<polygon points="302.68,360.60 296.55,376.06 309.56,381.24 315.70,365.74" fill="url(#g42)"/>
<polygon points="294.55,381.08 291.32,389.16 304.32,394.37 307.56,386.27" fill="url(#g43)"/>
<polygon points="279.31,418.90 275.51,428.20 288.47,433.51 292.28,424.18" fill="url(#g44)"/>
<polygon points="271.57,437.81 267.65,447.33 280.59,452.68 284.52,443.14" fill="url(#g45)"/>
<polygon points="254.01,480.06 252.70,483.18 265.60,488.61 266.91,485.49" fill="url(#g46)"/>
<polygon points="252.96,482.55 240.83,511.16 247.27,513.91 259.41,485.27" fill="url(#g47)"/>
<polygon points="259.41,485.27 247.27,513.91 253.71,516.66 265.86,487.98" fill="url(#g48)"/>
<polygon points="233.48,528.30 229.63,537.22 242.48,542.78 246.34,533.84" fill="url(#g49)"/>
<polygon points="229.96,536.44 227.31,542.56 240.16,548.13 242.81,542.00" fill="url(#g50)"/>
<polygon points="211.49,578.67 204.78,593.80 211.18,596.65 217.90,581.50" fill="url(#g51)"/>
<polygon points="217.90,581.50 211.18,596.65 217.57,599.49 224.30,584.33" fill="url(#g52)"/>
<polygon points="202.38,599.20 194.43,616.91 207.19,622.66 215.16,604.90" fill="url(#g53)"/>
<polygon points="393.98,56.69 387.91,74.80 393.03,81.51 401.18,79.27 407.26,61.12" fill="url(#g54)"/>
<polygon points="376.33,108.82 375.92,110.01 381.00,116.75 389.15,114.57 389.57,113.37" fill="url(#g55)"/>
<polygon points="374.30,114.71 373.64,116.62 378.71,123.36 386.87,121.19 387.53,119.28" fill="url(#g56)"/>
<polygon points="371.57,122.58 366.76,136.41 371.81,143.18 379.98,141.03 384.80,127.17" fill="url(#g57)"/>
<polygon points="365.12,141.10 362.66,148.09 367.70,154.86 375.87,152.74 378.33,145.73" fill="url(#g58)"/>
<polygon points="361.15,152.37 357.22,163.48 362.24,170.27 370.42,168.17 374.36,157.03" fill="url(#g59)"/>
<polygon points="350.35,182.74 345.15,197.15 350.13,203.97 358.32,201.92 363.52,187.47" fill="url(#g60)"/>
<polygon points="343.43,201.90 342.37,204.83 347.33,211.65 355.53,209.61 356.59,206.68" fill="url(#g61)"/>
<polygon points="340.61,209.65 340.56,209.81 345.51,216.64 353.71,214.61 353.77,214.45" fill="url(#g62)"/>
<polygon points="339.23,213.45 337.41,218.43 342.35,225.26 350.55,223.24 352.38,218.25" fill="url(#g63)"/>
<polygon points="334.42,226.56 339.36,233.41 347.56,231.40" fill="url(#g64)"/>
<polygon points="332.88,230.75 332.82,230.91 337.75,237.76 345.95,235.75 346.01,235.59" fill="url(#g65)"/>
<polygon points="331.48,234.54 329.52,239.83 334.44,246.68 342.65,244.69 344.61,239.39" fill="url(#g66)"/>
<polygon points="314.15,280.81 312.00,286.47 316.86,293.37 325.09,291.45 327.24,285.77" fill="url(#g67)"/>
<polygon points="310.08,291.50 309.93,291.90 314.79,298.80 323.01,296.89 323.16,296.49" fill="url(#g68)"/>
<polygon points="308.19,296.46 307.11,299.29 311.95,306.20 320.18,304.30 321.27,301.46" fill="url(#g69)"/>
<polygon points="305.45,303.61 299.79,318.29 304.61,325.22 312.84,323.35 318.52,308.63" fill="url(#g70)"/>
<polygon points="297.63,323.86 289.27,345.27 294.06,352.22 302.30,350.38 310.68,328.93" fill="url(#g71)"/>
<polygon points="285.91,353.80 281.45,365.07 286.21,372.04 294.46,370.24 298.93,358.94" fill="url(#g72)"/>
<polygon points="279.15,370.86 283.93,377.75 292.15,376.04" fill="url(#g73)"/>
<polygon points="277.71,374.45 276.31,377.97 281.05,384.95 289.31,383.17 290.71,379.64" fill="url(#g74)"/>
<polygon points="270.76,391.80 270.41,392.65 275.14,399.65 283.40,397.89 283.75,397.03" fill="url(#g75)"/>
<polygon points="268.90,396.40 268.11,398.35 272.83,405.35 281.09,403.60 281.88,401.64" fill="url(#g76)"/>
<polygon points="266.60,402.10 264.42,407.48 269.12,414.48 277.39,412.75 279.57,407.35" fill="url(#g77)"/>
<polygon points="262.58,412.00 260.45,417.22 265.14,424.24 273.41,422.51 275.54,417.28" fill="url(#g78)"/>
<polygon points="254.83,430.93 252.65,436.22 257.33,443.25 265.60,441.56 267.78,436.25" fill="url(#g79)"/>
<polygon points="250.34,441.82 248.18,447.03 252.84,454.07 261.12,452.39 263.28,447.17" fill="url(#g80)"/>
<polygon points="246.15,451.93 245.76,452.86 250.41,459.91 258.69,458.24 259.08,457.30" fill="url(#g81)"/>
<polygon points="237.84,471.81 242.47,478.87 250.75,477.23" fill="url(#g82)"/>
<polygon points="236.25,475.61 226.10,499.56 230.69,506.64 238.98,505.05 249.15,481.04" fill="url(#g83)"/>
<polygon points="216.96,520.91 215.06,525.31 219.61,532.42 227.91,530.86 229.81,526.45" fill="url(#g84)"/>
<polygon points="213.32,529.33 212.32,531.65 216.86,538.76 225.16,537.21 226.17,534.89" fill="url(#g85)"/>
<polygon points="196.98,566.74 196.64,567.51 201.14,574.65 209.45,573.16 209.79,572.39" fill="url(#g86)"/>
<polygon points="195.01,571.20 190.51,581.36 194.99,588.51 203.30,587.04 207.81,576.86" fill="url(#g87)"/>
<polygon points="188.83,585.13 188.46,585.97 192.93,593.13 201.24,591.67 201.62,590.82" fill="url(#g88)"/>
<polygon points="186.88,589.51 186.40,590.59 190.87,597.75 199.18,596.29 199.66,595.21" fill="url(#g89)"/>
<polygon points="184.75,594.27 179.86,605.18 184.31,612.35 192.63,610.92 197.53,599.99" fill="url(#g90)"/>
<polygon points="211.35,533.89 210.88,534.97 215.42,542.08 223.72,540.54 224.19,539.46" fill="url(#g91)"/>
<circle cx="-5157.374" cy="-1794.427" r="5845.35" fill="none" stroke="#808080" stroke-width="5.2"/>
<circle cx="-5157.374" cy="-1794.427" r="5843.35" fill="none" stroke="#626262" stroke-width="1.2"/>
<circle cx="-5157.374" cy="-1794.427" r="5847.35" fill="none" stroke="#9a9a9a" stroke-width="1.2"/>
<line x1="376.19" y1="-46.20" x2="372.94" y2="-47.22" stroke="#008000" stroke-width="2.2"/>
<line x1="456.67" y1="-20.77" x2="459.91" y2="-19.75" stroke="#008000" stroke-width="2.2"/>
<line x1="371.13" y1="-30.29" x2="363.32" y2="-32.78" stroke="#008000" stroke-width="2.2"/>
<line x1="451.54" y1="-4.63" x2="459.35" y2="-2.14" stroke="#008000" stroke-width="2.2"/>
<line x1="366.04" y1="-14.39" x2="362.80" y2="-15.43" stroke="#008000" stroke-width="2.2"/>
<line x1="446.37" y1="11.50" x2="449.60" y2="12.54" stroke="#008000" stroke-width="2.2"/>
<line x1="360.89" y1="1.49" x2="357.66" y2="0.44" stroke="#008000" stroke-width="2.2"/>
<line x1="441.15" y1="27.61" x2="444.38" y2="28.66" stroke="#008000" stroke-width="2.2"/>
<line x1="355.71" y1="17.35" x2="352.48" y2="16.29" stroke="#008000" stroke-width="2.2"/>
<line x1="435.89" y1="43.70" x2="439.12" y2="44.77" stroke="#008000" stroke-width="2.2"/>
<line x1="350.47" y1="33.20" x2="347.24" y2="32.13" stroke="#008000" stroke-width="2.2"/>
<line x1="430.58" y1="59.79" x2="433.80" y2="60.86" stroke="#008000" stroke-width="2.2"/>
<line x1="345.19" y1="49.04" x2="337.42" y2="46.44" stroke="#008000" stroke-width="2.2"/>
<line x1="425.22" y1="75.85" x2="432.99" y2="78.46" stroke="#008000" stroke-width="2.2"/>
<line x1="339.87" y1="64.86" x2="336.65" y2="63.77" stroke="#008000" stroke-width="2.2"/>
<line x1="419.82" y1="91.90" x2="423.04" y2="92.99" stroke="#008000" stroke-width="2.2"/>
<line x1="334.50" y1="80.66" x2="331.28" y2="79.57" stroke="#008000" stroke-width="2.2"/>
<line x1="414.37" y1="107.94" x2="417.59" y2="109.03" stroke="#008000" stroke-width="2.2"/>
<line x1="329.08" y1="96.45" x2="325.86" y2="95.35" stroke="#008000" stroke-width="2.2"/>
<line x1="408.87" y1="123.95" x2="412.09" y2="125.06" stroke="#008000" stroke-width="2.2"/>
<line x1="323.62" y1="112.23" x2="320.41" y2="111.11" stroke="#008000" stroke-width="2.2"/>
<line x1="403.33" y1="139.96" x2="406.54" y2="141.07" stroke="#008000" stroke-width="2.2"/>
<line x1="318.11" y1="127.99" x2="310.37" y2="125.27" stroke="#008000" stroke-width="2.2"/>
<line x1="397.74" y1="155.94" x2="405.48" y2="158.66" stroke="#008000" stroke-width="2.2"/>
<line x1="312.56" y1="143.73" x2="309.35" y2="142.59" stroke="#008000" stroke-width="2.2"/>
<line x1="392.11" y1="171.92" x2="395.32" y2="173.05" stroke="#008000" stroke-width="2.2"/>
<line x1="306.96" y1="159.45" x2="303.76" y2="158.31" stroke="#008000" stroke-width="2.2"/>
<line x1="386.43" y1="187.87" x2="389.63" y2="189.02" stroke="#008000" stroke-width="2.2"/>
<line x1="301.32" y1="175.16" x2="298.12" y2="174.01" stroke="#008000" stroke-width="2.2"/>
<line x1="380.71" y1="203.81" x2="383.91" y2="204.96" stroke="#008000" stroke-width="2.2"/>
<line x1="295.63" y1="190.86" x2="292.43" y2="189.69" stroke="#008000" stroke-width="2.2"/>
<line x1="374.94" y1="219.73" x2="378.13" y2="220.89" stroke="#008000" stroke-width="2.2"/>
<line x1="289.90" y1="206.53" x2="282.20" y2="203.71" stroke="#008000" stroke-width="2.2"/>
<line x1="369.12" y1="235.64" x2="376.82" y2="238.46" stroke="#008000" stroke-width="2.2"/>
<line x1="284.12" y1="222.19" x2="280.93" y2="221.01" stroke="#008000" stroke-width="2.2"/>
<line x1="363.26" y1="251.52" x2="366.45" y2="252.70" stroke="#008000" stroke-width="2.2"/>
<line x1="278.29" y1="237.84" x2="275.11" y2="236.65" stroke="#008000" stroke-width="2.2"/>
<line x1="357.35" y1="267.39" x2="360.53" y2="268.59" stroke="#008000" stroke-width="2.2"/>
<line x1="272.43" y1="253.46" x2="269.25" y2="252.26" stroke="#008000" stroke-width="2.2"/>
<line x1="351.40" y1="283.25" x2="354.58" y2="284.45" stroke="#008000" stroke-width="2.2"/>
<line x1="266.51" y1="269.07" x2="263.34" y2="267.87" stroke="#008000" stroke-width="2.2"/>
<line x1="345.40" y1="299.09" x2="348.58" y2="300.29" stroke="#008000" stroke-width="2.2"/>
<line x1="260.56" y1="284.67" x2="252.90" y2="281.73" stroke="#008000" stroke-width="2.2"/>
<line x1="339.35" y1="314.91" x2="347.01" y2="317.84" stroke="#008000" stroke-width="2.2"/>
<line x1="254.55" y1="300.24" x2="251.38" y2="299.02" stroke="#008000" stroke-width="2.2"/>
<line x1="333.26" y1="330.71" x2="336.43" y2="331.93" stroke="#008000" stroke-width="2.2"/>
<line x1="248.51" y1="315.80" x2="245.34" y2="314.57" stroke="#008000" stroke-width="2.2"/>
<line x1="327.13" y1="346.49" x2="330.29" y2="347.73" stroke="#008000" stroke-width="2.2"/>
<line x1="242.41" y1="331.34" x2="239.25" y2="330.10" stroke="#008000" stroke-width="2.2"/>
<line x1="320.95" y1="362.26" x2="324.11" y2="363.50" stroke="#008000" stroke-width="2.2"/>
<line x1="236.28" y1="346.87" x2="233.12" y2="345.61" stroke="#008000" stroke-width="2.2"/>
<line x1="314.72" y1="378.01" x2="317.88" y2="379.26" stroke="#008000" stroke-width="2.2"/>
<line x1="230.09" y1="362.37" x2="222.48" y2="359.32" stroke="#008000" stroke-width="2.2"/>
<line x1="308.45" y1="393.74" x2="316.06" y2="396.79" stroke="#008000" stroke-width="2.2"/>
<line x1="223.87" y1="377.86" x2="220.72" y2="376.59" stroke="#008000" stroke-width="2.2"/>
<line x1="302.13" y1="409.45" x2="305.28" y2="410.73" stroke="#008000" stroke-width="2.2"/>
<line x1="217.60" y1="393.33" x2="214.45" y2="392.05" stroke="#008000" stroke-width="2.2"/>
<line x1="295.77" y1="425.15" x2="298.92" y2="426.43" stroke="#008000" stroke-width="2.2"/>
<line x1="211.28" y1="408.78" x2="208.14" y2="407.49" stroke="#008000" stroke-width="2.2"/>
<line x1="289.36" y1="440.82" x2="292.51" y2="442.11" stroke="#008000" stroke-width="2.2"/>
<line x1="204.92" y1="424.21" x2="201.78" y2="422.91" stroke="#008000" stroke-width="2.2"/>
<line x1="282.91" y1="456.48" x2="286.05" y2="457.78" stroke="#008000" stroke-width="2.2"/>
<line x1="198.52" y1="439.63" x2="190.95" y2="436.47" stroke="#008000" stroke-width="2.2"/>
<line x1="276.41" y1="472.12" x2="283.98" y2="475.28" stroke="#008000" stroke-width="2.2"/>
<line x1="192.07" y1="455.03" x2="188.94" y2="453.71" stroke="#008000" stroke-width="2.2"/>
<line x1="269.87" y1="487.74" x2="273.01" y2="489.06" stroke="#008000" stroke-width="2.2"/>
<line x1="185.58" y1="470.40" x2="182.45" y2="469.08" stroke="#008000" stroke-width="2.2"/>
<line x1="263.29" y1="503.34" x2="266.42" y2="504.67" stroke="#008000" stroke-width="2.2"/>
<line x1="179.04" y1="485.76" x2="175.91" y2="484.43" stroke="#008000" stroke-width="2.2"/>
<line x1="256.65" y1="518.93" x2="259.78" y2="520.26" stroke="#008000" stroke-width="2.2"/>
<line x1="172.46" y1="501.10" x2="169.34" y2="499.76" stroke="#008000" stroke-width="2.2"/>
<line x1="249.98" y1="534.49" x2="253.10" y2="535.83" stroke="#008000" stroke-width="2.2"/>
<line x1="165.84" y1="516.42" x2="158.31" y2="513.16" stroke="#008000" stroke-width="2.2"/>
<line x1="243.26" y1="550.03" x2="250.78" y2="553.30" stroke="#008000" stroke-width="2.2"/>
<line x1="159.17" y1="531.73" x2="156.05" y2="530.36" stroke="#008000" stroke-width="2.2"/>
<line x1="236.49" y1="565.56" x2="239.60" y2="566.92" stroke="#008000" stroke-width="2.2"/>
<line x1="152.45" y1="547.01" x2="149.34" y2="545.64" stroke="#008000" stroke-width="2.2"/>
<line x1="229.68" y1="581.06" x2="232.79" y2="582.44" stroke="#008000" stroke-width="2.2"/>
<line x1="145.70" y1="562.27" x2="142.59" y2="560.89" stroke="#008000" stroke-width="2.2"/>
<line x1="222.82" y1="596.55" x2="225.93" y2="597.93" stroke="#008000" stroke-width="2.2"/>
<line x1="138.90" y1="577.52" x2="135.79" y2="576.13" stroke="#008000" stroke-width="2.2"/>
<line x1="215.92" y1="612.02" x2="219.03" y2="613.40" stroke="#008000" stroke-width="2.2"/>
<line x1="132.05" y1="592.74" x2="124.58" y2="589.37" stroke="#008000" stroke-width="2.2"/>
<line x1="208.98" y1="627.46" x2="216.45" y2="630.83" stroke="#008000" stroke-width="2.2"/>
<text x="335.82" y="44.14" text-anchor="end" class="tk">1630 kbp</text>
<text x="308.77" y="122.97" text-anchor="end" class="tk">1640 kbp</text>
<text x="280.60" y="201.41" text-anchor="end" class="tk">1650 kbp</text>
<text x="251.30" y="279.43" text-anchor="end" class="tk">1660 kbp</text>
<text x="220.88" y="357.02" text-anchor="end" class="tk">1670 kbp</text>
<text x="189.35" y="434.17" text-anchor="end" class="tk">1680 kbp</text>
<text x="156.71" y="510.86" text-anchor="end" class="tk">1690 kbp</text>
<text x="122.98" y="587.07" text-anchor="end" class="tk">1700 kbp</text>
<line x1="338.35" y1="32.26" x2="282.5" y2="51.2" stroke="#0000ff" stroke-width="1.1"/>
<line x1="327.97" y1="63.21" x2="277" y2="65.8" stroke="#0000ff" stroke-width="1.1"/>
<line x1="324.94" y1="72.12" x2="271.3" y2="82.2" stroke="#0000ff" stroke-width="1.1"/>
<line x1="322.25" y1="80.00" x2="266.2" y2="97.8" stroke="#0000ff" stroke-width="1.1"/>
<line x1="296.27" y1="154.30" x2="251.6" y2="138.4" stroke="#0000ff" stroke-width="1.1"/>
<line x1="277.99" y1="204.73" x2="233.5" y2="188" stroke="#0000ff" stroke-width="1.1"/>
<line x1="268.03" y1="231.60" x2="225.5" y2="209.7" stroke="#0000ff" stroke-width="1.1"/>
<line x1="262.85" y1="245.40" x2="219" y2="226" stroke="#0000ff" stroke-width="1.1"/>
<line x1="259.86" y1="253.35" x2="212.5" y2="244.2" stroke="#0000ff" stroke-width="1.1"/>
<line x1="216.32" y1="365.02" x2="172" y2="347.6" stroke="#0000ff" stroke-width="1.1"/>
<line x1="200.75" y1="403.38" x2="157" y2="385.4" stroke="#0000ff" stroke-width="1.1"/>
<line x1="185.28" y1="440.70" x2="141.6" y2="422.4" stroke="#0000ff" stroke-width="1.1"/>
<line x1="164.91" y1="488.78" x2="121.2" y2="470.2" stroke="#0000ff" stroke-width="1.1"/>
<line x1="150.96" y1="521.04" x2="111.6" y2="491.9" stroke="#0000ff" stroke-width="1.1"/>
<line x1="147.45" y1="529.06" x2="104.9" y2="508.2" stroke="#0000ff" stroke-width="1.1"/>
<line x1="145.78" y1="532.87" x2="96.7" y2="526.2" stroke="#0000ff" stroke-width="1.1"/>
<line x1="435.41" y1="82.58" x2="482" y2="98.8" stroke="#ff0000" stroke-width="1.1"/>
<line x1="420.31" y1="127.00" x2="476" y2="116.4" stroke="#ff0000" stroke-width="1.1"/>
<line x1="418.15" y1="133.25" x2="469" y2="133.4" stroke="#ff0000" stroke-width="1.1"/>
<line x1="413.30" y1="147.20" x2="464.4" y2="147.6" stroke="#ff0000" stroke-width="1.1"/>
<line x1="407.98" y1="162.42" x2="459.6" y2="162.6" stroke="#ff0000" stroke-width="1.1"/>
<line x1="403.23" y1="175.86" x2="453.5" y2="179.1" stroke="#ff0000" stroke-width="1.1"/>
<line x1="391.69" y1="208.13" x2="448.8" y2="193.4" stroke="#ff0000" stroke-width="1.1"/>
<line x1="386.81" y1="221.61" x2="443.5" y2="207.4" stroke="#ff0000" stroke-width="1.1"/>
<line x1="384.46" y1="228.07" x2="437.6" y2="223.7" stroke="#ff0000" stroke-width="1.1"/>
<line x1="382.15" y1="234.37" x2="431.3" y2="240.5" stroke="#ff0000" stroke-width="1.1"/>
<line x1="378.23" y1="245.04" x2="425.5" y2="256.4" stroke="#ff0000" stroke-width="1.1"/>
<line x1="374.29" y1="255.70" x2="415.9" y2="283.3" stroke="#ff0000" stroke-width="1.1"/>
<line x1="376.65" y1="249.34" x2="476.7" y2="291.9" stroke="#ff0000" stroke-width="1.1"/>
<line x1="356.70" y1="302.57" x2="410" y2="299.3" stroke="#ff0000" stroke-width="1.1"/>
<line x1="353.59" y1="310.73" x2="403.9" y2="314.8" stroke="#ff0000" stroke-width="1.1"/>
<line x1="351.22" y1="316.91" x2="397" y2="332.1" stroke="#ff0000" stroke-width="1.1"/>
<line x1="346.13" y1="330.14" x2="391.2" y2="348.5" stroke="#ff0000" stroke-width="1.1"/>
<line x1="336.88" y1="353.94" x2="385.3" y2="363.9" stroke="#ff0000" stroke-width="1.1"/>
<line x1="327.03" y1="378.97" x2="379.5" y2="378.3" stroke="#ff0000" stroke-width="1.1"/>
<line x1="322.49" y1="390.40" x2="373.7" y2="393" stroke="#ff0000" stroke-width="1.1"/>
<line x1="320.29" y1="395.92" x2="367.8" y2="409.1" stroke="#ff0000" stroke-width="1.1"/>
<line x1="313.80" y1="412.06" x2="362.5" y2="422" stroke="#ff0000" stroke-width="1.1"/>
<line x1="308.68" y1="424.72" x2="352.6" y2="446.3" stroke="#ff0000" stroke-width="1.1"/>
<line x1="311.71" y1="417.25" x2="412.1" y2="458" stroke="#ff0000" stroke-width="1.1"/>
<line x1="304.65" y1="434.62" x2="346.3" y2="460.3" stroke="#ff0000" stroke-width="1.1"/>
<line x1="296.83" y1="453.70" x2="340.5" y2="474.8" stroke="#ff0000" stroke-width="1.1"/>
<line x1="292.29" y1="464.68" x2="334.2" y2="491.1" stroke="#ff0000" stroke-width="1.1"/>
<line x1="288.97" y1="472.67" x2="327.7" y2="506.8" stroke="#ff0000" stroke-width="1.1"/>
<line x1="280.78" y1="492.24" x2="321.1" y2="521.5" stroke="#ff0000" stroke-width="1.1"/>
<line x1="274.05" y1="508.18" x2="314.4" y2="537.8" stroke="#ff0000" stroke-width="1.1"/>
<line x1="258.73" y1="543.99" x2="307.8" y2="552.5" stroke="#ff0000" stroke-width="1.1"/>
<text x="229.90" y="52.10" textLength="50.20" lengthAdjust="spacingAndGlyphs" class="lb" fill="#0000ff">Swit_1476</text>
<text x="225.20" y="67.10" textLength="49.60" lengthAdjust="spacingAndGlyphs" class="lb" fill="#0000ff">Swit_1478</text>
<text x="220.20" y="82.90" textLength="49.60" lengthAdjust="spacingAndGlyphs" class="lb" fill="#0000ff">Swit_1479</text>
<text x="214.40" y="98.70" textLength="49.50" lengthAdjust="spacingAndGlyphs" class="lb" fill="#0000ff">Swit_1480</text>
<text x="199.80" y="139.40" textLength="50.20" lengthAdjust="spacingAndGlyphs" class="lb" fill="#0000ff">Swit_1487</text>
<text x="182.20" y="188.60" textLength="49.50" lengthAdjust="spacingAndGlyphs" class="lb" fill="#0000ff">Swit_1492</text>
<text x="173.85" y="210.85" textLength="50.25" lengthAdjust="spacingAndGlyphs" class="lb" fill="#0000ff">Swit_1496</text>
<text x="167.10" y="226.90" textLength="49.50" lengthAdjust="spacingAndGlyphs" class="lb" fill="#0000ff">Swit_1497</text>
<text x="161.10" y="244.90" textLength="49.95" lengthAdjust="spacingAndGlyphs" class="lb" fill="#0000ff">Swit_1498</text>
<text x="120.00" y="348.40" textLength="50.00" lengthAdjust="spacingAndGlyphs" class="lb" fill="#0000ff">Swit_1507</text>
<text x="127.00" y="386.40" textLength="28.00" lengthAdjust="spacingAndGlyphs" class="lb" fill="#0000ff">anmK</text>
<text x="90.00" y="422.80" textLength="50.00" lengthAdjust="spacingAndGlyphs" class="lb" fill="#0000ff">Swit_1516</text>
<text x="69.00" y="471.00" textLength="49.80" lengthAdjust="spacingAndGlyphs" class="lb" fill="#0000ff">Swit_1519</text>
<text x="60.40" y="492.70" textLength="49.50" lengthAdjust="spacingAndGlyphs" class="lb" fill="#0000ff">Swit_1522</text>
<text x="52.90" y="509.10" textLength="50.20" lengthAdjust="spacingAndGlyphs" class="lb" fill="#0000ff">Swit_1523</text>
<text x="45.20" y="526.60" textLength="49.50" lengthAdjust="spacingAndGlyphs" class="lb" fill="#0000ff">Swit_1524</text>
<text x="483.00" y="101.00" textLength="49.60" lengthAdjust="spacingAndGlyphs" class="lb" fill="#ff0000">Swit_1477</text>
<text x="476.00" y="119.00" textLength="49.60" lengthAdjust="spacingAndGlyphs" class="lb" fill="#ff0000">Swit_1482</text>
<text x="471.00" y="135.80" textLength="49.60" lengthAdjust="spacingAndGlyphs" class="lb" fill="#ff0000">Swit_1483</text>
<text x="466.00" y="149.80" textLength="49.60" lengthAdjust="spacingAndGlyphs" class="lb" fill="#ff0000">Swit_1484</text>
<text x="460.40" y="165.80" textLength="49.20" lengthAdjust="spacingAndGlyphs" class="lb" fill="#ff0000">Swit_1485</text>
<text x="455.20" y="182.10" textLength="49.80" lengthAdjust="spacingAndGlyphs" class="lb" fill="#ff0000">Swit_1486</text>
<text x="449.90" y="195.90" textLength="50.20" lengthAdjust="spacingAndGlyphs" class="lb" fill="#ff0000">Swit_1488</text>
<text x="444.00" y="210.10" textLength="50.20" lengthAdjust="spacingAndGlyphs" class="lb" fill="#ff0000">Swit_1489</text>
<text x="439.40" y="226.90" textLength="49.70" lengthAdjust="spacingAndGlyphs" class="lb" fill="#ff0000">Swit_1490</text>
<text x="432.40" y="243.90" textLength="48.50" lengthAdjust="spacingAndGlyphs" class="lb" fill="#ff0000">Swit_1491</text>
<text x="427.20" y="259.60" textLength="49.50" lengthAdjust="spacingAndGlyphs" class="lb" fill="#ff0000">Swit_1493</text>
<text x="417.40" y="285.90" textLength="49.20" lengthAdjust="spacingAndGlyphs" class="lb" fill="#ff0000">Swit_1495</text>
<text x="477.40" y="294.40" textLength="48.70" lengthAdjust="spacingAndGlyphs" class="lb" fill="#ff0000">Swit_1494</text>
<text x="411.30" y="301.90" textLength="49.40" lengthAdjust="spacingAndGlyphs" class="lb" fill="#ff0000">Swit_1499</text>
<text x="404.90" y="317.60" textLength="49.70" lengthAdjust="spacingAndGlyphs" class="lb" fill="#ff0000">Swit_1500</text>
<text x="398.30" y="334.90" textLength="48.30" lengthAdjust="spacingAndGlyphs" class="lb" fill="#ff0000">Swit_1501</text>
<text x="392.40" y="351.20" textLength="49.50" lengthAdjust="spacingAndGlyphs" class="lb" fill="#ff0000">Swit_1502</text>
<text x="386.60" y="366.60" textLength="49.00" lengthAdjust="spacingAndGlyphs" class="lb" fill="#ff0000">Swit_1503</text>
<text x="380.50" y="381.50" textLength="48.60" lengthAdjust="spacingAndGlyphs" class="lb" fill="#ff0000">Swit_1504</text>
<text x="374.70" y="395.50" textLength="48.60" lengthAdjust="spacingAndGlyphs" class="lb" fill="#ff0000">Swit_1505</text>
<text x="369.10" y="411.40" textLength="20.80" lengthAdjust="spacingAndGlyphs" class="lb" fill="#ff0000">nrdF</text>
<text x="363.30" y="424.20" textLength="49.00" lengthAdjust="spacingAndGlyphs" class="lb" fill="#ff0000">Swit_1508</text>
<text x="352.70" y="448.40" textLength="49.80" lengthAdjust="spacingAndGlyphs" class="lb" fill="#ff0000">Swit_1510</text>
<text x="412.70" y="460.00" textLength="49.70" lengthAdjust="spacingAndGlyphs" class="lb" fill="#ff0000">Swit_1509</text>
<text x="346.90" y="462.60" textLength="49.00" lengthAdjust="spacingAndGlyphs" class="lb" fill="#ff0000">Swit_1511</text>
<text x="341.10" y="477.80" textLength="49.70" lengthAdjust="spacingAndGlyphs" class="lb" fill="#ff0000">Swit_1513</text>
<text x="335.20" y="493.90" textLength="49.50" lengthAdjust="spacingAndGlyphs" class="lb" fill="#ff0000">Swit_1514</text>
<text x="327.80" y="509.80" textLength="49.50" lengthAdjust="spacingAndGlyphs" class="lb" fill="#ff0000">Swit_1515</text>
<text x="321.90" y="523.80" textLength="49.50" lengthAdjust="spacingAndGlyphs" class="lb" fill="#ff0000">Swit_1517</text>
<text x="314.90" y="540.10" textLength="49.50" lengthAdjust="spacingAndGlyphs" class="lb" fill="#ff0000">Swit_1518</text>
<text x="308.90" y="555.30" textLength="49.70" lengthAdjust="spacingAndGlyphs" class="lb" fill="#ff0000">Swit_1520</text>
<rect x="133" y="5" width="333" height="26" fill="#fff" fill-opacity="0.75"/>
<rect x="5" y="572" width="143" height="24" fill="#fff" fill-opacity="0.75"/>
<rect x="257" y="572" width="336" height="24" fill="#fff" fill-opacity="0.75"/>
<text x="137.73" y="22.9" textLength="101.51" lengthAdjust="spacingAndGlyphs" class="ti">Sphingomonas</text>
<text x="243.93" y="22.9" textLength="52.33" lengthAdjust="spacingAndGlyphs" class="ti">wittichii</text>
<text x="301.2" y="22.9" textLength="35.02" lengthAdjust="spacingAndGlyphs" class="ti">RW1,</text>
<text x="340.03" y="22.9" textLength="61.28" lengthAdjust="spacingAndGlyphs" class="ti">complete</text>
<text x="407.0" y="22.9" textLength="53.66" lengthAdjust="spacingAndGlyphs" class="ti">genome</text>
<text x="9.4" y="586.9" textLength="58.28" lengthAdjust="spacingAndGlyphs" class="ft">Accession:</text>
<text x="72.87" y="586.9" textLength="70.3" lengthAdjust="spacingAndGlyphs" class="ft">NC_009511</text>
<text x="261.7" y="586.9" textLength="56.26" lengthAdjust="spacingAndGlyphs" class="ft">Topology:</text>
<text x="322.08" y="586.9" textLength="45.91" lengthAdjust="spacingAndGlyphs" class="ft">circular;</text>
<text x="371.97" y="586.9" textLength="41.87" lengthAdjust="spacingAndGlyphs" class="ft">Length:</text>
<text x="417.4" y="586.9" textLength="63.87" lengthAdjust="spacingAndGlyphs" class="ft">5,382,261</text>
<text x="485.74" y="586.9" textLength="18.6" lengthAdjust="spacingAndGlyphs" class="ft">bp;</text>
<text x="510.31" y="586.9" textLength="38.13" lengthAdjust="spacingAndGlyphs" class="ft">Genes:</text>
<text x="554.31" y="586.9" textLength="35.02" lengthAdjust="spacingAndGlyphs" class="ft">4,906</text>
</svg></body></html>
